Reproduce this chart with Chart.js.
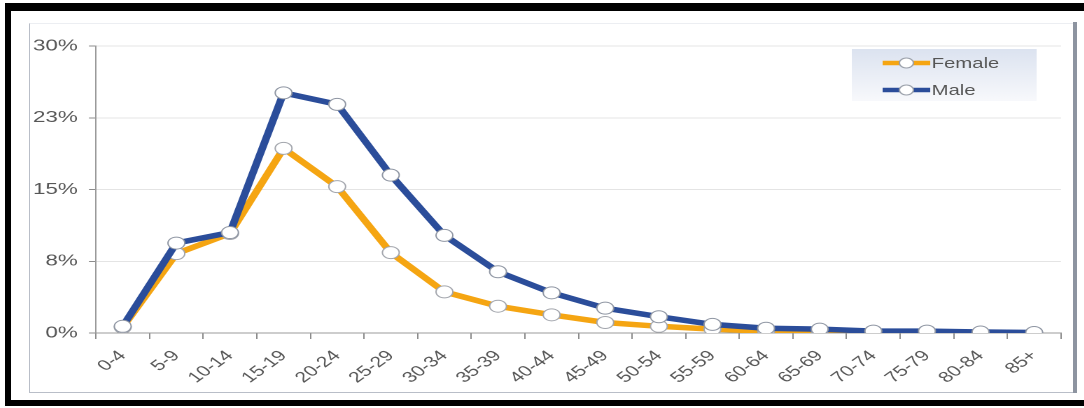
<!DOCTYPE html>
<html>
<head>
<meta charset="utf-8">
<script src="https://cdn.jsdelivr.net/npm/chart.js@4.4.1/dist/chart.umd.min.js"></script>
<style>
  body { margin: 0; background: #fff; width: 1084px; height: 408px; overflow: hidden; position: relative; }
  .blk { position: absolute; background: #000; }
  #frame { position: absolute; left: 29px; top: 23px; width: 1043px; height: 368px; border-left: 1px solid #b9bec8; border-top: 1px solid #eceef2; border-bottom: 1px solid #b9bec8; }
  #rbar { position: absolute; left: 1073px; top: 22px; width: 4px; height: 371px; background: #8d94a0; }
  #holder { position: absolute; left: 30px; top: 24px; width: 744px; height: 368px; transform: scaleX(1.4); transform-origin: 0 0; }
</style>
</head>
<body>
<div class="blk" style="left:5px;top:3px;width:1079px;height:8px"></div>
<div class="blk" style="left:5px;top:3px;width:6px;height:403px"></div>
<div class="blk" style="left:5px;top:400px;width:1079px;height:6px"></div>
<div id="frame"></div>
<div id="rbar"></div>
<div id="holder"><canvas id="chart"></canvas></div>

<script>
// age groups and share of each group (percent)
var ageGroups = ['0-4', '5-9', '10-14', '15-19', '20-24', '25-29', '30-34', '35-39', '40-44',
                 '45-49', '50-54', '55-59', '60-64', '65-69', '70-74', '75-79', '80-84', '85+'];
var femaleValues = [0.6, 8.3, 10.4, 19.3, 15.3, 8.4, 4.3, 2.8, 1.9, 1.1, 0.7, 0.4, 0.2, 0.1, 0.05, 0.05, 0.02, 0.02];
var maleValues = [0.7, 9.4, 10.5, 25.1, 23.9, 16.5, 10.2, 6.4, 4.2, 2.6, 1.7, 0.9, 0.5, 0.4, 0.2, 0.2, 0.1, 0.05];

// y axis ticks (excel rounds the labels)
var yTickValues = [0, 7.5, 15, 22.5, 30];
var yTickLabels = ['0%', '8%', '15%', '23%', '30%'];

var FONT = "'Liberation Sans', Arial, sans-serif";
var ORANGE = '#f5a512';
var BLUE = '#2b4d9a';

// legend drawn inside the plot, with the pale gradient box
var boxLegend = {
    id: 'boxLegend',
    afterDraw: function(chart) {
        var ctx = chart.ctx;
        var x0 = 587, y0 = 25, w = 132, h = 52;
        ctx.save();
        var grad = ctx.createLinearGradient(0, y0, 0, y0 + h);
        grad.addColorStop(0, '#dce3f0');
        grad.addColorStop(1, '#f8f9fc');
        ctx.fillStyle = grad;
        ctx.fillRect(x0, y0, w, h);

        var sets = chart.data.datasets;
        for (var i = 0; i < sets.length; i++) {
            var cy = 39 + i * 27;
            ctx.strokeStyle = sets[i].borderColor;
            ctx.lineWidth = 4.5;
            ctx.beginPath();
            ctx.moveTo(609, cy);
            ctx.lineTo(643, cy);
            ctx.stroke();
            ctx.beginPath();
            ctx.arc(626, cy, 5, 0, Math.PI * 2);
            ctx.fillStyle = '#fff';
            ctx.fill();
            ctx.lineWidth = 1;
            ctx.strokeStyle = '#9aa0aa';
            ctx.stroke();
            ctx.fillStyle = '#555';
            ctx.font = '14.5px ' + FONT;
            ctx.textBaseline = 'middle';
            ctx.textAlign = 'left';
            ctx.fillText(sets[i].label, 644, cy + 1);
        }
        ctx.restore();
    }
};

var ctx = document.getElementById('chart').getContext('2d');
var myChart = new Chart(ctx, {
    type: 'line',
    data: {
        labels: ageGroups,
        datasets: [{
            label: 'Female',
            data: femaleValues,
            borderColor: ORANGE,
            backgroundColor: ORANGE,
            borderWidth: 5.5,
            pointRadius: 6,
            pointBackgroundColor: '#fff',
            pointBorderColor: '#a3a6ad',
            pointBorderWidth: 1,
            tension: 0,
            order: 2
        }, {
            label: 'Male',
            data: maleValues,
            borderColor: BLUE,
            backgroundColor: BLUE,
            borderWidth: 5.5,
            pointRadius: 6,
            pointBackgroundColor: '#fff',
            pointBorderColor: '#8f96a3',
            pointBorderWidth: 1,
            tension: 0,
            order: 1
        }]
    },
    options: {
        responsive: true,
        maintainAspectRatio: false,
        animation: false,
        devicePixelRatio: 2,
        layout: { padding: { top: 22, right: 7.6, left: 0, bottom: 0 } },
        plugins: {
            legend: { display: false },
            tooltip: { enabled: false }
        },
        scales: {
            x: {
                offset: true,
                afterFit: function(scale) { scale.height = 59; },
                grid: { display: true, drawOnChartArea: false, offset: true, tickLength: 6, tickColor: '#8c8c8c' },
                border: { color: '#9a9a9a' },
                ticks: {
                    autoSkip: false,
                    minRotation: 45,
                    maxRotation: 45,
                    padding: 8,
                    color: '#575757',
                    font: { family: FONT, size: 15 }
                }
            },
            y: {
                min: 0,
                max: 30,
                afterFit: function(scale) { scale.width = 47.1; },
                afterBuildTicks: function(scale) {
                    scale.ticks = yTickValues.map(function(v) { return { value: v }; });
                },
                grid: { color: '#e4e4e4', tickLength: 5, tickColor: '#8c8c8c' },
                border: { color: '#9a9a9a' },
                ticks: {
                    padding: 8,
                    color: '#575757',
                    font: { family: FONT, size: 16 },
                    callback: function(value) {
                        var idx = yTickValues.indexOf(value);
                        return idx >= 0 ? yTickLabels[idx] : '';
                    }
                }
            }
        }
    },
    plugins: [boxLegend]
});
</script>
</body>
</html>
